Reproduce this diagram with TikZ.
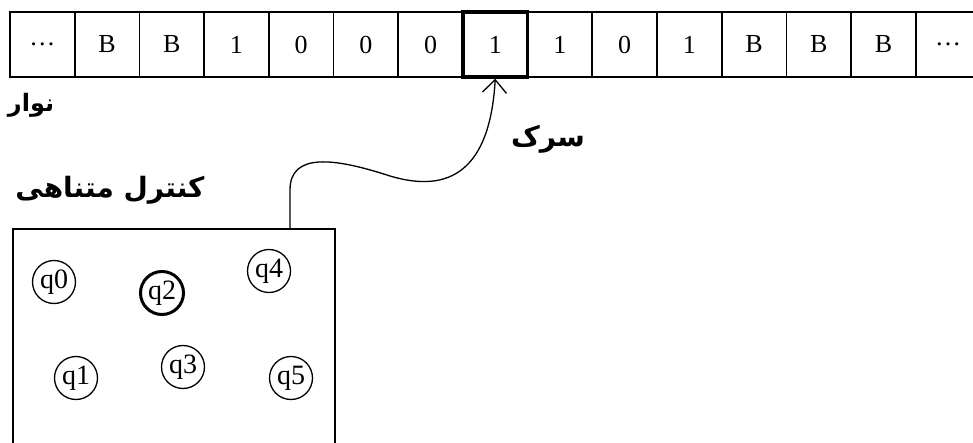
\documentclass[tikz,border=0pt]{standalone}
\usepackage{fontspec}
\setmainfont{Liberation Serif}
\newfontfamily\arabicfont[Script=Arabic]{DejaVu Sans}
\TeXXeTstate=1
\usetikzlibrary{arrows.meta}
\tikzset{
  cell/.style={draw, line width=1.8pt, minimum width=64.7pt, minimum height=65pt,
    inner sep=0pt, font=\fontsize{26}{26}\selectfont},
  headcell/.style={cell, line width=3.5pt},
  state/.style={draw, circle, line width=1.3pt, minimum size=43pt, inner sep=0pt,
    font=\fontsize{28}{28}\selectfont},
  curstate/.style={state, line width=3pt},
  fa/.style={font=\fontsize{28}{32}\selectfont\arabicfont\bfseries},
}
\begin{document}
\begin{tikzpicture}[x=1pt, y=-1pt]
\useasboundingbox (0,0) rectangle (973,443);
\clip (0,0) rectangle (973,443);
% tape cells
\foreach \s [count=\i from 0] in {\dots,B,B,1,0,0,0,1,1,0,1,B,B,B,\dots} {
  \ifnum\i=7\relax\else
  \node[cell] (c\i) at (10+64.7*\i+32.35, 44.5) {\s};
  \fi
}
\node[headcell] (head) at (10+64.7*7+32.35, 44.5) {1};
% finite control
\node[draw, line width=1.8pt, minimum width=322pt, minimum height=230pt, anchor=north west]
  (ctrl) at (12,228) {};
\node[state] (q0) at (54,282) {q0};
\node[curstate] (q2) at (162,293) {q2};
\node[state] (q4) at (269,271) {q4};
\node[state] (q1) at (76,378) {q1};
\node[state] (q3) at (183,367) {q3};
\node[state] (q5) at (291,378) {q5};
% labels
\node[fa, font=\fontsize{24}{28}\selectfont\arabicfont\bfseries] (tape) at (31,105) {\beginR نوار\endR};
\node[fa] (hlbl) at (548,139) {\beginR سرک\endR};
\node[fa] (clbl) at (110,190) {\beginR کنترل متناهی\endR};
% head connector
\coordinate (src) at (ctrl.north west -| 290,0);
\draw[line width=1.3pt, -{Straight Barb[length=13pt, width=24pt, line width=1.3pt]}]
  (src) -- (290,190)
  .. controls (290,152) and (335,158) .. (390,176)
  .. controls (450,194) and (490,170) .. (head.south);
\end{tikzpicture}
\end{document}
